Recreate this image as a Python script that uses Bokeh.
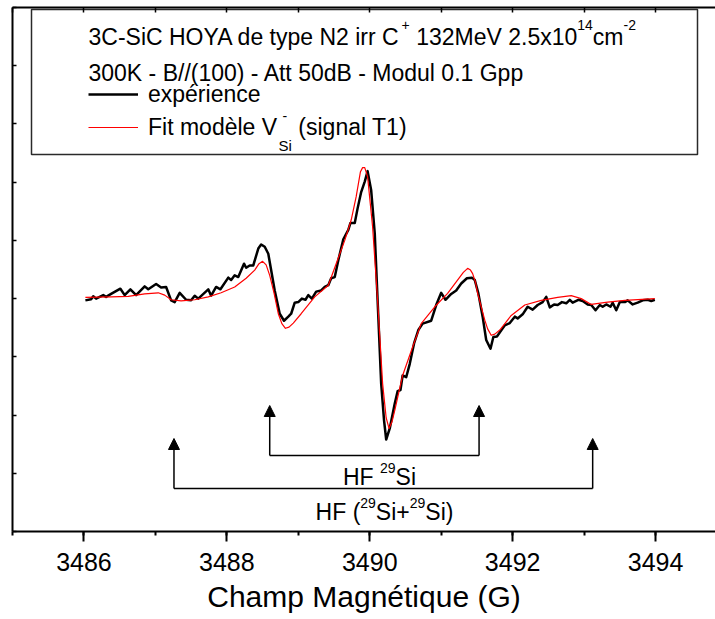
from bokeh.plotting import figure
from bokeh.models import (LinearAxis, SingleIntervalTicker, Range1d, Legend, LegendItem,
                          BoxAnnotation, Label, Arrow, NormalHead, ColumnDataSource,
                          CustomJSTickFormatter)
from bokeh.embed import file_html
from bokeh.resources import INLINE

# ---------------- data ----------------
exp_field = [3486.02, 3486.10, 3486.13, 3486.17, 3486.27, 3486.31, 3486.38, 3486.51, 3486.57, 3486.65,
             3486.73, 3486.85, 3486.90, 3487.01, 3487.08, 3487.15, 3487.22, 3487.27, 3487.34, 3487.43,
             3487.50, 3487.55, 3487.60, 3487.74, 3487.78, 3487.85, 3487.91, 3488.02, 3488.06, 3488.11,
             3488.16, 3488.24, 3488.27, 3488.32, 3488.37, 3488.44, 3488.48, 3488.53, 3488.58, 3488.67,
             3488.74, 3488.80, 3488.86, 3488.90, 3488.95, 3489.00, 3489.05, 3489.10, 3489.14, 3489.19,
             3489.25, 3489.32, 3489.37, 3489.42, 3489.46, 3489.51, 3489.56, 3489.63, 3489.70, 3489.73,
             3489.79, 3489.83, 3489.88, 3489.93, 3489.97, 3490.02, 3490.07, 3490.11, 3490.16, 3490.20,
             3490.23, 3490.28, 3490.35, 3490.39, 3490.43, 3490.46, 3490.51, 3490.56, 3490.62, 3490.68,
             3490.74, 3490.86, 3490.93, 3491.00, 3491.06, 3491.14, 3491.21, 3491.28, 3491.36, 3491.43,
             3491.47, 3491.52, 3491.58, 3491.63, 3491.69, 3491.73, 3491.78, 3491.89, 3491.96, 3492.03,
             3492.07, 3492.14, 3492.21, 3492.28, 3492.35, 3492.42, 3492.47, 3492.52, 3492.58, 3492.63,
             3492.69, 3492.75, 3492.80, 3492.84, 3492.92, 3492.98, 3493.05, 3493.10, 3493.16, 3493.22,
             3493.26, 3493.31, 3493.37, 3493.40, 3493.45, 3493.50, 3493.57, 3493.61, 3493.68, 3493.75,
             3493.82, 3493.89, 3493.94, 3493.99]
exp_signal = [-0.03, -0.01, 0.04, 0.00, 0.06, 0.03, 0.08, 0.17, 0.06, 0.16,
              0.06, 0.21, 0.16, 0.25, 0.19, 0.20, -0.03, -0.06, 0.10, -0.02,
              -0.03, 0.05, 0.00, 0.16, 0.05, 0.20, 0.16, 0.36, 0.32, 0.40,
              0.37, 0.60, 0.53, 0.57, 0.57, 0.86, 0.93, 0.89, 0.77, 0.14,
              -0.26, -0.38, -0.31, -0.26, -0.07, -0.06, 0.00, -0.02, 0.06, 0.00,
              0.12, 0.14, 0.20, 0.23, 0.35, 0.37, 0.66, 1.02, 1.18, 1.30,
              1.30, 1.55, 1.83, 2.01, 2.19, 1.86, 1.12, -0.03, -1.46, -2.09,
              -2.42, -2.23, -1.80, -1.59, -1.57, -1.32, -1.35, -1.12, -0.77, -0.54,
              -0.43, -0.38, -0.11, 0.10, -0.02, 0.08, 0.14, 0.26, 0.35, 0.36,
              0.32, 0.09, -0.31, -0.71, -0.86, -0.66, -0.65, -0.46, -0.42, -0.31,
              -0.34, -0.27, -0.14, -0.19, -0.11, -0.06, 0.03, -0.15, -0.10, -0.11,
              -0.06, -0.08, -0.02, -0.07, -0.02, -0.04, -0.10, -0.11, -0.20, -0.11,
              -0.14, -0.10, -0.14, -0.07, -0.20, -0.06, -0.06, -0.03, -0.10, -0.07,
              -0.03, -0.02, -0.04, -0.02]

fit_field = [3486.02, 3486.38, 3486.62, 3486.85, 3487.04, 3487.13, 3487.22, 3487.36, 3487.55, 3487.74,
             3487.92, 3488.11, 3488.27, 3488.39, 3488.45, 3488.50, 3488.55, 3488.60, 3488.66, 3488.72,
             3488.77, 3488.82, 3488.87, 3488.93, 3489.04, 3489.23, 3489.42, 3489.53, 3489.65, 3489.74,
             3489.81, 3489.87, 3489.90, 3489.93, 3489.97, 3490.04, 3490.11, 3490.18, 3490.23, 3490.27,
             3490.31, 3490.35, 3490.46, 3490.60, 3490.72, 3490.91, 3491.09, 3491.26, 3491.31, 3491.37,
             3491.41, 3491.44, 3491.48, 3491.51, 3491.61, 3491.65, 3491.70, 3491.75, 3491.82, 3491.98,
             3492.17, 3492.40, 3492.63, 3492.82, 3492.96, 3493.10, 3493.33, 3493.57, 3493.99]
fit_signal = [0.02, 0.03, 0.04, 0.08, 0.10, 0.06, -0.02, -0.04, -0.02, 0.03,
              0.10, 0.20, 0.35, 0.49, 0.60, 0.64, 0.58, 0.40, 0.10, -0.26,
              -0.43, -0.51, -0.49, -0.42, -0.26, 0.03, 0.23, 0.60, 1.00, 1.35,
              1.75, 2.18, 2.25, 2.25, 2.09, 1.23, -0.03, -1.46, -2.05, -2.23,
              -2.12, -1.92, -1.32, -0.83, -0.43, -0.14, 0.09, 0.37, 0.45, 0.52,
              0.49, 0.43, 0.28, 0.09, -0.37, -0.52, -0.63, -0.61, -0.54, -0.29,
              -0.11, -0.03, 0.02, 0.05, 0.00, -0.10, -0.06, -0.03, 0.00]

hf_single = [3488.60, 3491.53]   # HF 29Si lines
hf_double = [3487.26, 3493.12]   # HF (29Si+29Si) lines

x_ticks_interval = 2
x_label = "Champ Magnétique (G)"
exp_label = "expérience"

# ---------------- layout constants ----------------
X0, X1 = 3485.0, 3485.0 + 703 / 71.45
Y0, Y1 = -4.0, 5.0
FW, FH = 703, 524
FL, FT = 12, 7   # page position of frame left/top
FONT = "Liberation Sans"


def dx(px):
    return X0 + (px - FL) * (X1 - X0) / FW


def dy(py):
    return Y1 - (py - FT) * (Y1 - Y0) / FH


W = {' ': 278, '(': 333, ')': 333, '+': 584, '-': 333, '.': 278, '/': 278,
     'A': 667, 'B': 667, 'C': 722, 'D': 722, 'F': 611, 'G': 778, 'H': 722, 'K': 667,
     'M': 833, 'N': 722, 'O': 778, 'S': 667, 'T': 611, 'V': 667, 'Y': 667,
     'a': 556, 'b': 556, 'c': 500, 'd': 556, 'e': 556, 'g': 556, 'i': 222, 'l': 222,
     'm': 833, 'n': 556, 'o': 556, 'p': 556, 'r': 333, 's': 500, 't': 278, 'u': 556,
     'x': 500, 'y': 500, 'è': 556, 'é': 556}


def tw(s, size):
    return sum(W.get(ch, 556) for ch in s) * size / 1000.0


p = figure(width=715, height=619, x_range=Range1d(X0, X1), y_range=Range1d(Y0, Y1),
           output_backend="svg", toolbar_location=None,
           x_axis_location=None, y_axis_location=None,
           min_border_left=FL, min_border_right=0, min_border_top=FT, min_border_bottom=88)
p.grid.visible = False
p.outline_line_color = None
p.background_fill_color = "white"
p.border_fill_color = "white"

blank = CustomJSTickFormatter(code="return ''")

xaxis = LinearAxis(ticker=SingleIntervalTicker(interval=x_ticks_interval, num_minor_ticks=2),
                   major_tick_out=10, major_tick_in=0, minor_tick_out=4, minor_tick_in=0,
                   axis_line_width=2, major_tick_line_width=2, minor_tick_line_width=2,
                   major_label_text_font=FONT, major_label_text_font_size="25px",
                   major_label_text_color="black", major_label_standoff=11,
                   axis_label=x_label, axis_label_text_font=FONT, axis_label_text_color="black",
                   axis_label_text_font_size="30px", axis_label_text_font_style="normal",
                   axis_label_standoff=6)
p.add_layout(xaxis, "below")

yaxis = LinearAxis(ticker=SingleIntervalTicker(interval=1, num_minor_ticks=0),
                   major_tick_in=4, major_tick_out=0, minor_tick_in=0, minor_tick_out=0,
                   axis_line_width=2, major_tick_line_width=1.5,
                   formatter=blank, major_label_text_font_size="0px", major_label_standoff=0)
p.add_layout(yaxis, "left")

topaxis = LinearAxis(ticker=SingleIntervalTicker(interval=1, num_minor_ticks=0),
                     major_tick_in=5, major_tick_out=0, minor_tick_in=0, minor_tick_out=0,
                     axis_line_width=2, major_tick_line_width=1.5,
                     formatter=blank, major_label_text_font_size="0px", major_label_standoff=0)
p.add_layout(topaxis, "above")

exp_src = ColumnDataSource(dict(x=exp_field, y=exp_signal))
fit_src = ColumnDataSource(dict(x=fit_field, y=fit_signal))
r_exp = p.line("x", "y", source=exp_src, line_color="black", line_width=2.5, line_join="round")
r_fit = p.line("x", "y", source=fit_src, line_color="#ff0000", line_width=1.2, line_join="round")

# legend box (under the axes so the top ticks stay visible)
p.add_layout(BoxAnnotation(left=dx(31), right=dx(697), top=dy(9), bottom=dy(154),
                           fill_color="white", fill_alpha=1.0, level="underlay",
                           line_color="#2a2a2a", line_alpha=1.0, line_width=1.5))

legend = Legend(items=[LegendItem(label=exp_label, renderers=[r_exp]),
                       LegendItem(label="Fit modèle V", renderers=[r_fit])],
                location=(88 - FL, (FT + FH) - 142),
                border_line_color=None, background_fill_alpha=0.0,
                padding=0, margin=0, spacing=3,
                glyph_width=50, glyph_height=30, label_height=30, label_standoff=10,
                label_text_font=FONT, label_text_font_size="23px", label_text_color="black")
p.add_layout(legend)

BASE_FIX = 0.37   # Label alphabetic baseline correction (fraction of font size)


def rich(segments, x_page, base_page):
    x = x_page
    for txt, size, rise in segments:
        lead = len(txt) - len(txt.lstrip(" "))
        xs = x + tw(" " * lead, size)
        shown = txt.strip(" ")
        if shown:
            p.add_layout(Label(x=dx(xs), y=dy(base_page - rise - BASE_FIX * size), text=shown,
                               text_font=FONT, text_font_size=f"{size}px",
                               text_baseline="alphabetic", text_align="left",
                               text_color="black"))
        x += tw(txt, size)


def rich_width(segments):
    return sum(tw(t, s) for t, s, _ in segments)


line1 = [("3C-SiC HOYA de type N2 irr C", 23, 0), ("+", 14, 15), (" 132MeV 2.5x10", 23, 0),
         ("14", 14, 15), ("cm", 23, 0), ("-2", 14, 15)]
rich(line1, 88, 45)
rich([("300K - B//(100) - Att 50dB - Modul 0.1 Gpp", 23, 0)], 88, 81.5)

# rest of the fit legend label (subscript / superscript)
vx = 148 + tw("Fit modèle V", 23)
rich([("Si", 15, 0)], vx + 1, 151)
rich([("-", 14, 0)], vx + 5, 121)
rich([(" (signal T1)", 23, 0)], vx + 1 + tw("Si", 15), 135)

# hyperfine brackets
head = dict(size=11, fill_color="black", line_color="black")
for xv in hf_single:
    p.add_layout(Arrow(end=NormalHead(**head), x_start=xv, y_start=dy(455), x_end=xv, y_end=dy(405),
                       line_width=1.5, line_color="black"))
for xv in hf_double:
    p.add_layout(Arrow(end=NormalHead(**head), x_start=xv, y_start=dy(488), x_end=xv, y_end=dy(438),
                       line_width=1.5, line_color="black"))
p.segment(x0=[hf_single[0]], x1=[hf_single[1]], y0=[dy(455)], y1=[dy(455)],
          line_color="black", line_width=1.5)
p.segment(x0=[hf_double[0]], x1=[hf_double[1]], y0=[dy(488)], y1=[dy(488)],
          line_color="black", line_width=1.5)

hf1 = [("HF ", 23, 0), ("29", 14, 12), ("Si", 23, 0)]
rich(hf1, 379 - rich_width(hf1) / 2, 485)
hf2 = [("HF (", 23, 0), ("29", 14, 12), ("Si+", 23, 0), ("29", 14, 12), ("Si)", 23, 0)]
rich(hf2, 384 - rich_width(hf2) / 2, 520)

open("out.html", "w").write(file_html(p, INLINE))
